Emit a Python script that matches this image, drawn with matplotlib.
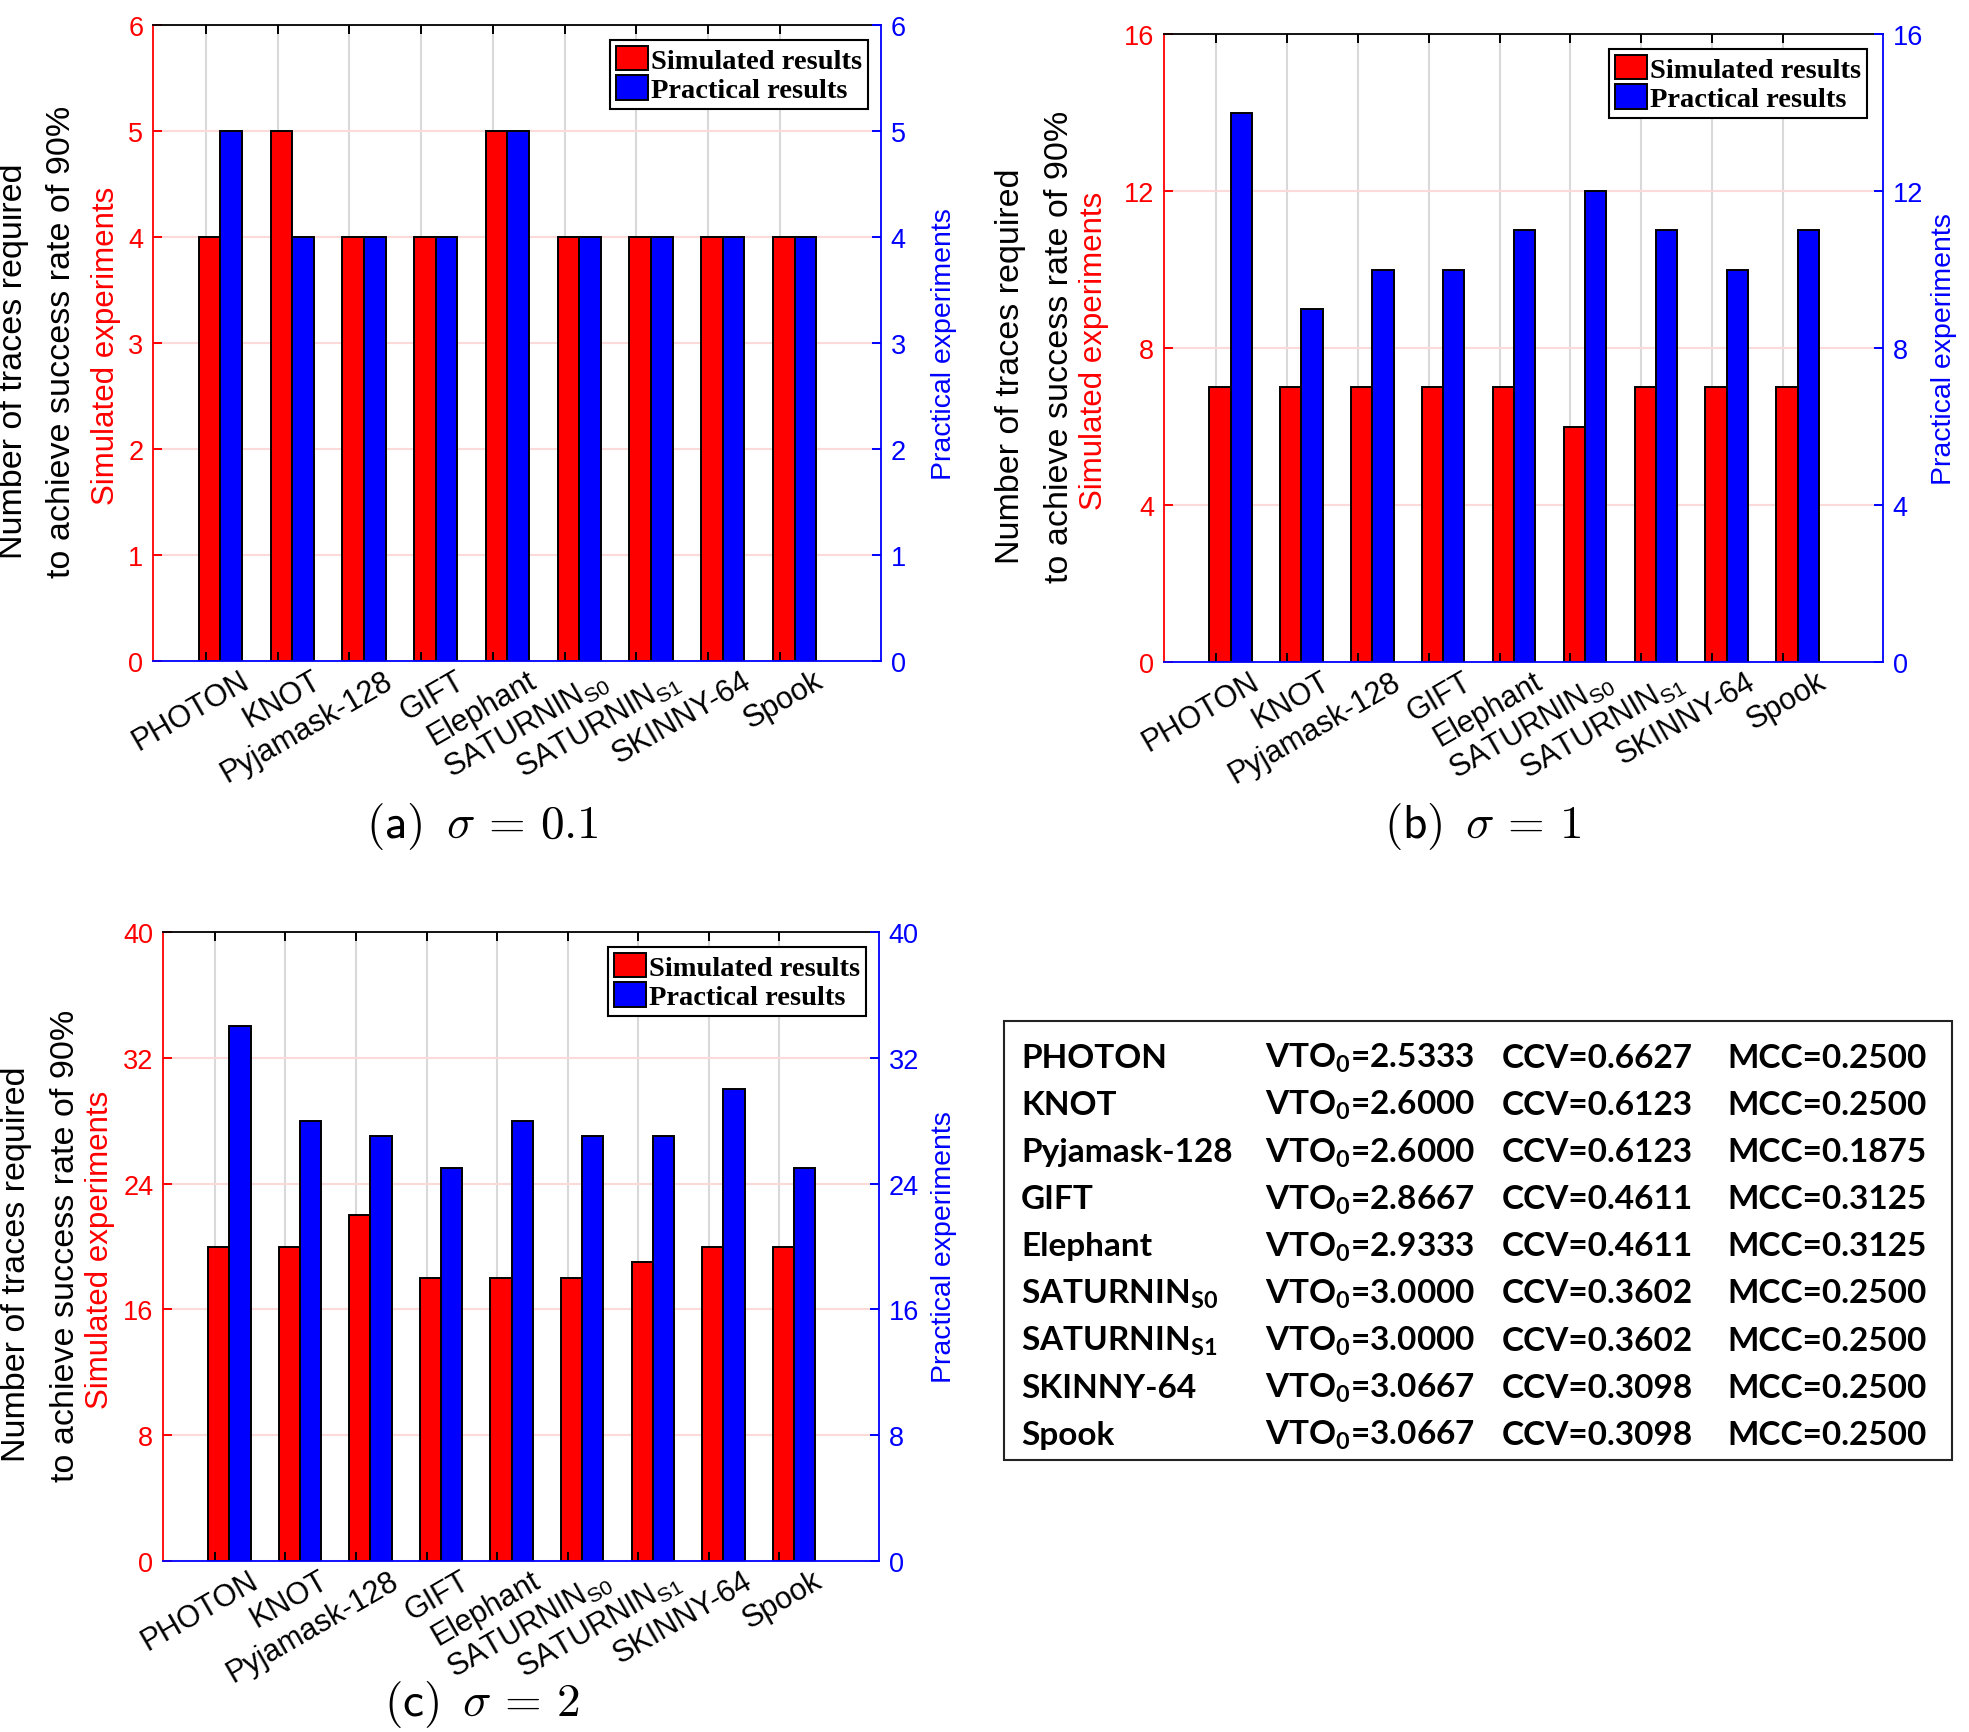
import matplotlib
matplotlib.use('Agg')
import matplotlib.pyplot as plt
import numpy as np
from matplotlib.patches import Patch, Rectangle

plt.rcParams['font.family'] = ['Liberation Sans', 'DejaVu Sans']
plt.rcParams['mathtext.fontset'] = 'custom'
plt.rcParams['mathtext.rm'] = 'Liberation Sans'
plt.rcParams['mathtext.it'] = 'Liberation Sans:italic'
plt.rcParams['mathtext.bf'] = 'Lato:bold'

# ---------------- data ----------------
categories = ['PHOTON', 'KNOT', 'Pyjamask-128', 'GIFT', 'Elephant',
              'SATURNIN$_{\\mathrm{S0}}$', 'SATURNIN$_{\\mathrm{S1}}$',
              'SKINNY-64', 'Spook']

sim_a = [4, 5, 4, 4, 5, 4, 4, 4, 4]
prac_a = [5, 4, 4, 4, 5, 4, 4, 4, 4]
sim_b = [7, 7, 7, 7, 7, 6, 7, 7, 7]
prac_b = [14, 9, 10, 10, 11, 12, 11, 10, 11]
sim_c = [20, 20, 22, 18, 18, 18, 19, 20, 20]
prac_c = [34, 28, 27, 25, 28, 27, 27, 30, 25]

ymax_list = [6, 16, 40]
ystep_list = [1, 4, 8]
captions = [r'$\mathsf{(a)}\ \,\sigma\,=\,0.1$', r'$\mathsf{(b)}\ \,\sigma\,=\,1$',
            r'$\mathsf{(c)}\ \,\sigma\,=\,2$']
legend_labels = ['Simulated results', 'Practical results']

table_names = ['PHOTON', 'KNOT', 'Pyjamask-128', 'GIFT', 'Elephant',
               'SATURNIN$_{\\mathbf{S0}}$', 'SATURNIN$_{\\mathbf{S1}}$',
               'SKINNY-64', 'Spook']
vto0 = [2.5333, 2.6000, 2.6000, 2.8667, 2.9333, 3.0000, 3.0000, 3.0667, 3.0667]
ccv = [0.6627, 0.6123, 0.6123, 0.4611, 0.4611, 0.3602, 0.3602, 0.3098, 0.3098]
mcc = [0.2500, 0.2500, 0.1875, 0.3125, 0.3125, 0.2500, 0.2500, 0.2500, 0.2500]

# ---------------- layout ----------------
W, H = 1969, 1733
fig = plt.figure(figsize=(W / 100, H / 100), dpi=100)
fig.patch.set_facecolor('white')

RED = '#ff0000'
BLUE = '#0000ff'

panels = [
    dict(box=(153, 26, 881, 662), sim=sim_a, prac=prac_a, leg=(868, 41),
         ylx=(14, 62, 106), bx=944, cap=(482, 826)),
    dict(box=(1164, 35, 1883, 663), sim=sim_b, prac=prac_b, leg=(1867, 50),
         ylx=(1011, 1059, 1094), bx=1944, cap=(1483, 826)),
    dict(box=(163, 933, 879, 1562), sim=sim_c, prac=prac_c, leg=(866, 948),
         ylx=(17, 66, 100), bx=944, cap=(482, 1705)),
]

for k, p in enumerate(panels):
    l, t, r, b = p['box']
    ax = fig.add_axes([l / W, 1 - b / H, (r - l) / W, (b - t) / H])
    ax2 = ax.twinx()
    x = np.arange(1, len(categories) + 1)
    ymax = ymax_list[k]
    yt = np.arange(0, ymax + ystep_list[k], ystep_list[k])

    ax.set_axisbelow(True)
    ax.bar(x + 0.055, p['sim'], width=0.3, color=RED, edgecolor='black',
           linewidth=1.4, zorder=2)
    ax2.bar(x + 0.355, p['prac'], width=0.3, color=BLUE, edgecolor='black',
            linewidth=1.4, zorder=1)

    for a in (ax, ax2):
        a.set_xlim(0.265, 10.41)
        a.set_ylim(0, ymax)
        a.set_yticks(yt)

    # grid on primary axes
    ax.set_xticks(x)
    ax.tick_params(axis='x', which='both', length=0, labelbottom=False)
    ax.grid(axis='x', color='#d9d9d9', linewidth=1.5)
    ax.grid(axis='y', color='#fcdada', linewidth=1.5)

    ax.tick_params(axis='y', direction='in', colors=RED, labelsize=19.5,
                   length=6.5, width=1.4, pad=7)
    ax2.tick_params(axis='y', direction='in', colors=BLUE, labelsize=19.5,
                    length=6.5, width=1.4, pad=7)

    # x ticks on secondary axes (drawn on top of bars)
    ax2.xaxis.set_visible(True)
    ax2.set_xticks(x)
    ax2.set_xticks(x + 0.47, minor=True)
    ax2.set_xticklabels([])
    ax2.set_xticklabels(categories, minor=True, rotation=30, ha='right',
                        va='top', rotation_mode='anchor', fontsize=22)
    ax2.tick_params(axis='x', which='major', direction='in', top=True,
                    bottom=True, length=6.5, width=1.4, color='black',
                    labelbottom=False)
    ax2.tick_params(axis='x', which='minor', length=0, pad=3, top=False)

    # spines
    for s in ax.spines.values():
        s.set_linewidth(1.3)
    for s in ax2.spines.values():
        s.set_linewidth(1.3)
    ax.spines['left'].set_color(RED)
    ax.spines['top'].set_color('black')
    ax.spines['right'].set_visible(False)
    ax.spines['bottom'].set_visible(False)
    ax2.spines['left'].set_visible(False)
    ax2.spines['top'].set_visible(False)
    ax2.spines['right'].set_color(BLUE)
    ax2.spines['bottom'].set_color(BLUE)

    # legend
    handles = [Patch(facecolor=RED, edgecolor='black', linewidth=1.4, label=legend_labels[0]),
               Patch(facecolor=BLUE, edgecolor='black', linewidth=1.4, label=legend_labels[1])]
    lx, ly = p['leg']
    leg = ax2.legend(handles=handles, loc='upper right',
                     bbox_to_anchor=(lx / W, 1 - ly / H),
                     bbox_transform=fig.transFigure, borderaxespad=0,
                     prop={'family': 'Liberation Serif', 'weight': 'bold', 'size': 20.5},
                     frameon=True, fancybox=False, edgecolor='black', framealpha=1,
                     handlelength=1.15, handleheight=0.95, handletextpad=0.1,
                     labelspacing=0.05, borderpad=0.2)
    leg.get_frame().set_linewidth(1.5)

    # y labels
    cy = (t + b) / 2
    x1, x2, x3 = p['ylx']
    fig.text(x1 / W, 1 - (cy + 17) / H, 'Number of traces required', rotation=90,
             ha='center', va='center', fontsize=24.5, color='black')
    fig.text(x2 / W, 1 - (cy - 2) / H, 'to achieve success rate of 90%', rotation=90,
             ha='center', va='center', fontsize=24.5, color='black')
    fig.text(x3 / W, 1 - (cy + 2) / H, 'Simulated experiments', rotation=90,
             ha='center', va='center', fontsize=22.5, color=RED)
    fig.text(p['bx'] / W, 1 - cy / H, 'Practical experiments', rotation=90,
             ha='center', va='center', fontsize=20.5, color=BLUE)

    # caption
    cx, cyy = p['cap']
    fig.text(cx / W, 1 - cyy / H, captions[k], math_fontfamily='cm',
             fontsize=34, ha='center', va='center', color='black')

# ---------------- table ----------------
fig.add_artist(Rectangle((1004 / W, 1 - 1461 / H), (1952 - 1004) / W,
                         (1461 - 1022) / H, transform=fig.transFigure,
                         fill=False, edgecolor='#222222', linewidth=1.5))
col_x = [1021, 1265, 1502, 1727]
base0, dy = 1068, 47.1
for i in range(len(table_names)):
    yb = 1 - (base0 + i * dy) / H
    cells = [table_names[i],
             'VTO$_{\\mathbf{0}}$=%.4f' % vto0[i],
             'CCV=%.4f' % ccv[i],
             'MCC=%.4f' % mcc[i]]
    for cxp, s in zip(col_x, cells):
        fig.text(cxp / W, yb, s, fontfamily='Lato', fontweight='bold',
                 fontsize=24, ha='left', va='baseline', color='black')

fig.savefig('out.png', dpi=100, facecolor='white')
